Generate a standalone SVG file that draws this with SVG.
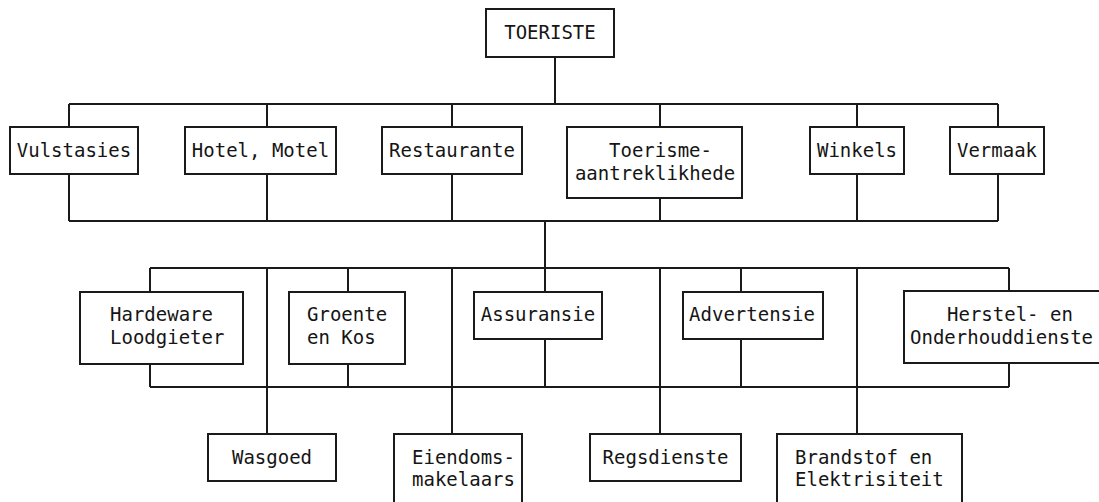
<svg xmlns="http://www.w3.org/2000/svg" width="1099" height="502" viewBox="0 0 1099 502">
<style>
.box{fill:#fff;stroke:#1a1a1a;stroke-width:2}
.ln{fill:none;stroke:#1a1a1a;stroke-width:2}
text{font-family:"DejaVu Sans Mono","Liberation Mono",monospace;font-size:19px;fill:#151515}
.c{text-anchor:middle}
</style>
<rect width="1099" height="502" fill="#fff"/>
<g id="connectors" class="ln">
<path d="M555 57V104M69 104H998M69 104V127M267 104V127M452 104V127M660 104V127M857 104V127M998 104V127"/>
<path d="M69 174V221M267 174V221M452 174V221M660 198V221M857 174V221M998 174V221M69 221H998"/>
<path d="M545 221V292M150 268H1009M150 268V292M348 268V292M741 268V292M1009 268V292"/>
<path d="M150 364V387M348 364V387M545 339V387M741 339V387M1009 363V387M150 387H1009"/>
<path d="M267 268V434M452 268V434M660 268V434M857 268V434"/>
</g>
<g id="toeriste"><rect class="box" x="486" y="9" width="128" height="48"/><text class="c" x="550" y="39">TOERISTE</text></g>
<g id="vulstasies"><rect class="box" x="10" y="127" width="128" height="47"/><text class="c" x="74" y="157">Vulstasies</text></g>
<g id="hotel"><rect class="box" x="185" y="127" width="151" height="47"/><text class="c" x="260.5" y="157">Hotel, Motel</text></g>
<g id="restaurante"><rect class="box" x="382" y="127" width="140" height="47"/><text class="c" x="452" y="157">Restaurante</text></g>
<g id="toerisme"><rect class="box" x="567" y="127" width="175" height="71"/><text x="609" y="157">Toerisme-</text><text class="c" x="655" y="180">aantreklikhede</text></g>
<g id="winkels"><rect class="box" x="810" y="127" width="94" height="47"/><text class="c" x="857" y="157">Winkels</text></g>
<g id="vermaak"><rect class="box" x="950" y="127" width="94" height="47"/><text class="c" x="997" y="157">Vermaak</text></g>
<g id="hardeware"><rect class="box" x="80" y="292" width="163" height="72"/><text x="110" y="321">Hardeware</text><text x="110" y="344">Loodgieter</text></g>
<g id="groente"><rect class="box" x="289" y="292" width="116" height="72"/><text x="307" y="321">Groente</text><text x="307" y="344">en Kos</text></g>
<g id="assuransie"><rect class="box" x="474" y="292" width="128" height="47"/><text class="c" x="538" y="321">Assuransie</text></g>
<g id="advertensie"><rect class="box" x="683" y="292" width="140" height="47"/><text class="c" x="752" y="321">Advertensie</text></g>
<g id="herstel"><rect class="box" x="904" y="291" width="200" height="72"/><text x="947" y="321">Herstel- en</text><text x="910" y="344">Onderhouddienste</text></g>
<g id="wasgoed"><rect class="box" x="208" y="434" width="128" height="47"/><text class="c" x="272" y="464">Wasgoed</text></g>
<g id="eiendoms"><rect class="box" x="394" y="434" width="128" height="75"/><text x="412" y="464">Eiendoms-</text><text x="412" y="486">makelaars</text></g>
<g id="regsdienste"><rect class="box" x="590" y="434" width="151" height="47"/><text class="c" x="665.5" y="464">Regsdienste</text></g>
<g id="brandstof"><rect class="box" x="777" y="434" width="185" height="75"/><text x="795" y="464">Brandstof en</text><text x="795" y="486">Elektrisiteit</text></g>
</svg>
